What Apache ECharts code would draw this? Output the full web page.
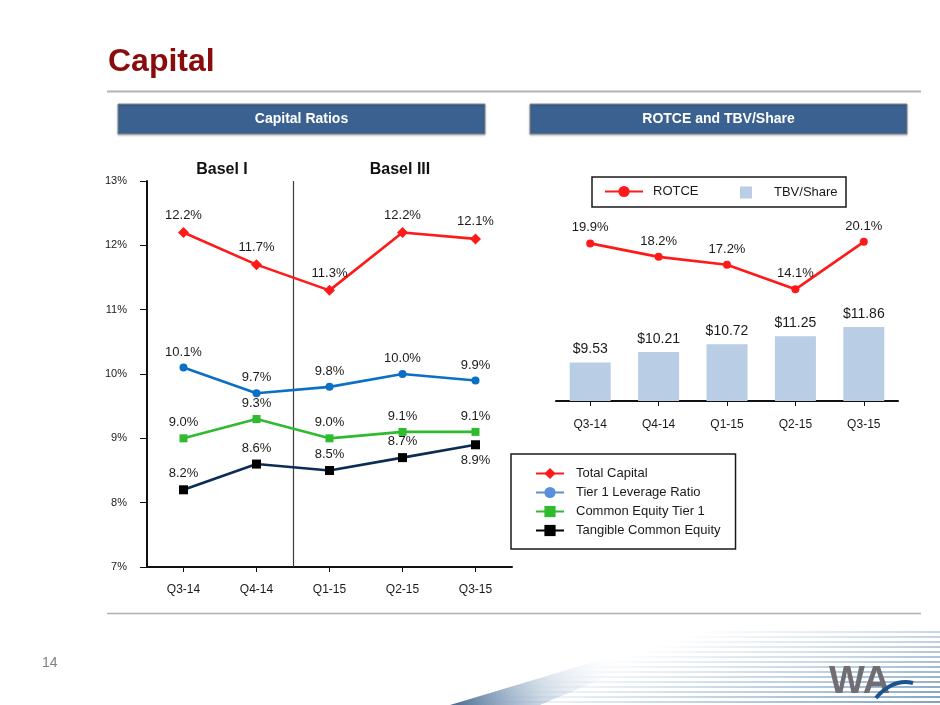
<!DOCTYPE html>
<html><head><meta charset="utf-8">
<script src="https://cdn.jsdelivr.net/npm/echarts@6/dist/echarts.min.js"></script>
<style>html,body{margin:0;padding:0;background:#fff}#c{width:940px;height:705px}</style>
</head><body><div id="c"></div>
<script>
// ---- data ----
const quarters = ['Q3-14', 'Q4-14', 'Q1-15', 'Q2-15', 'Q3-15'];
const totalCapital = [12.2, 11.7, 11.3, 12.2, 12.1];
const tier1Leverage = [10.1, 9.7, 9.8, 10.0, 9.9];
const commonEquityTier1 = [9.0, 9.3, 9.0, 9.1, 9.1];
const tangibleCommonEquity = [8.2, 8.6, 8.5, 8.7, 8.9];
const rotce = [19.9, 18.2, 17.2, 14.1, 20.1];
const tbvShare = [9.53, 10.21, 10.72, 11.25, 11.86];
const ratioAxis = { min: 7, max: 13, step: 1 };
const baselIQuarters = ['Q3-14', 'Q4-14'];
const leftSeriesNames = ['Total Capital', 'Tier 1 Leverage Ratio', 'Common Equity Tier 1', 'Tangible Common Equity'];

const F = "'Liberation Sans', Arial, Helvetica, sans-serif";
const pct = p => Number(p.value).toFixed(1) + '%';
const usd = p => '$' + Number(p.value).toFixed(2);
const labelTop = { show: true, position: 'top', distance: 5, fontFamily: F, fontSize: 13, color: '#1a1a1a', formatter: pct };

// stripes decoration bottom-right
const stripes = [];
for (let y = 632; y <= 704; y += 5) {
  const t = (y - 632) / 72;
  stripes.push({
    type: 'line',
    shape: { x1: 700 - t * 220, y1: y, x2: 940, y2: y },
    style: {
      lineWidth: 2.2,
      stroke: new echarts.graphic.LinearGradient(0, 0, 1, 0, [
        { offset: 0, color: 'rgba(120,160,195,0)' },
        { offset: 0.5, color: 'rgba(120,160,195,' + (0.2 + 0.3 * t) + ')' },
        { offset: 1, color: 'rgba(90,135,180,' + (0.35 + 0.45 * t) + ')' }
      ])
    },
    silent: true
  });
}

const chart = echarts.init(document.getElementById('c'), null, { renderer: 'canvas' });
chart.setOption({
  animation: false,
  backgroundColor: '#ffffff',
  textStyle: { fontFamily: F },
  graphic: [
    ...stripes,
    { type: 'polygon', silent: true,
      shape: { points: [[450, 705], [540, 705], [720, 630], [700, 630]] },
      style: { fill: new echarts.graphic.LinearGradient(0, 1, 0.6, 0, [
        { offset: 0, color: 'rgba(25,65,115,0.8)' },
        { offset: 0.5, color: 'rgba(70,115,160,0.25)' },
        { offset: 1, color: 'rgba(255,255,255,0)' }]) } },
    { type: 'text', left: 829, top: 664, silent: true,
      style: { text: 'WA', fontFamily: F, fontWeight: 'bold', fontSize: 38, fill: '#6f6f73' } },
    { type: 'bezierCurve', silent: true,
      shape: { x1: 876, y1: 698, x2: 913, y2: 683, cpx1: 888, cpy1: 684, cpx2: 900, cpy2: 680 },
      style: { stroke: '#1b5591', lineWidth: 4, fill: null } },

    { type: 'text', x: 108, y: 62, silent: true,
      style: { text: 'Capital', fontFamily: F, fontWeight: 'bold', fontSize: 32, fill: '#8a0b0b', textVerticalAlign: 'middle' } },
    { type: 'line', silent: true, shape: { x1: 107, y1: 91.5, x2: 921, y2: 91.5 }, style: { stroke: '#b4b4b4', lineWidth: 2 } },
    { type: 'line', silent: true, shape: { x1: 107, y1: 613.5, x2: 921, y2: 613.5 }, style: { stroke: '#b0b0b0', lineWidth: 1.5 } },
    { type: 'text', x: 42, y: 663, silent: true,
      style: { text: '14', fontFamily: F, fontSize: 14, fill: '#7f7f7f', textVerticalAlign: 'middle' } },

    { type: 'rect', silent: true, shape: { x: 118, y: 104, width: 367, height: 30 },
      style: { fill: '#3a6190', stroke: '#8a8a8a', lineWidth: 1, shadowBlur: 2, shadowColor: 'rgba(0,0,0,0.25)', shadowOffsetY: 1 } },
    { type: 'text', x: 301.5, y: 119, silent: true,
      style: { text: 'Capital Ratios', fontFamily: F, fontWeight: 'bold', fontSize: 14, fill: '#ffffff', textAlign: 'center', textVerticalAlign: 'middle' } },
    { type: 'rect', silent: true, shape: { x: 530, y: 104, width: 377, height: 30 },
      style: { fill: '#3a6190', stroke: '#8a8a8a', lineWidth: 1, shadowBlur: 2, shadowColor: 'rgba(0,0,0,0.25)', shadowOffsetY: 1 } },
    { type: 'text', x: 718.5, y: 119, silent: true,
      style: { text: 'ROTCE and TBV/Share', fontFamily: F, fontWeight: 'bold', fontSize: 14, fill: '#ffffff', textAlign: 'center', textVerticalAlign: 'middle' } },

    { type: 'text', x: 222, y: 170, silent: true,
      style: { text: 'Basel I', fontFamily: F, fontWeight: 'bold', fontSize: 16, fill: '#111', textAlign: 'center', textVerticalAlign: 'middle' } },
    { type: 'text', x: 400, y: 170, silent: true,
      style: { text: 'Basel III', fontFamily: F, fontWeight: 'bold', fontSize: 16, fill: '#111', textAlign: 'center', textVerticalAlign: 'middle' } },

    { type: 'rect', silent: true, shape: { x: 592, y: 177, width: 254, height: 30 },
      style: { fill: null, stroke: '#1a1a1a', lineWidth: 1.5 } }
  ],
  legend: [
    {
      orient: 'vertical', left: 511, top: 454,
      padding: [13, 15, 12, 24], itemWidth: 28, itemHeight: 14, itemGap: 6,
      borderColor: '#1a1a1a', borderWidth: 1.5,
      textStyle: { fontFamily: F, fontSize: 13, color: '#1a1a1a', padding: [0, 0, 0, 7] },
      data: [
        { name: leftSeriesNames[0] },
        { name: leftSeriesNames[1], itemStyle: { color: '#5b8fd9' }, lineStyle: { color: '#5b8fd9' } },
        { name: leftSeriesNames[2] },
        { name: leftSeriesNames[3], lineStyle: { color: '#000' } }
      ]
    },
    {
      left: 604, top: 185, padding: 0, itemWidth: 38, itemHeight: 14,
      textStyle: { fontFamily: F, fontSize: 13, color: '#1a1a1a', padding: [0, 0, 0, 5] },
      data: ['ROTCE']
    },
    {
      left: 740, top: 186, padding: 0, itemWidth: 12, itemHeight: 12,
      textStyle: { fontFamily: F, fontSize: 13, color: '#1a1a1a', padding: [0, 0, 0, 17] },
      data: [{ name: 'TBV/Share', icon: 'rect' }]
    }
  ],
  grid: [
    { left: 147, top: 181, width: 365, height: 386, containLabel: false },
    { left: 556, top: 203, width: 342, height: 198, containLabel: false }
  ],
  xAxis: [
    {
      gridIndex: 0, type: 'category', data: quarters, boundaryGap: true,
      axisLine: { show: true, lineStyle: { color: '#111', width: 2 } },
      axisTick: { show: true, alignWithLabel: true, length: 5, lineStyle: { color: '#111' } },
      axisLabel: { fontFamily: F, fontSize: 12, color: '#1a1a1a', margin: 17 },
      splitLine: { show: false }
    },
    {
      gridIndex: 1, type: 'category', data: quarters, boundaryGap: true,
      axisLine: { show: true, lineStyle: { color: '#111', width: 2 } },
      axisTick: { show: true, alignWithLabel: true, length: 5, lineStyle: { color: '#111' } },
      axisLabel: { fontFamily: F, fontSize: 12, color: '#1a1a1a', margin: 18 },
      splitLine: { show: false }
    },
    // hidden band-unit axis over the left grid, used to place the Basel I / Basel III divider
    { gridIndex: 0, type: 'value', min: 0, max: quarters.length, show: false, splitLine: { show: false } }
  ],
  yAxis: [
    {
      gridIndex: 0, type: 'value', min: ratioAxis.min, max: ratioAxis.max, interval: ratioAxis.step,
      axisLine: { show: true, lineStyle: { color: '#111', width: 2 } },
      axisTick: { show: true, length: 7, lineStyle: { color: '#111' } },
      axisLabel: { fontFamily: F, fontSize: 11, color: '#1a1a1a', margin: 20, formatter: '{value}%' },
      splitLine: { show: false }
    },
    { gridIndex: 1, type: 'value', min: 0, max: 25, show: false, splitLine: { show: false } },
    { gridIndex: 1, type: 'value', min: 7, max: 20, show: false, splitLine: { show: false } }
  ],
  series: [
    {
      name: 'divider', type: 'line', xAxisIndex: 2, yAxisIndex: 0,
      data: [[baselIQuarters.length, ratioAxis.min]], symbol: 'none', showSymbol: false,
      lineStyle: { width: 0 }, silent: true, z: 1,
      markLine: {
        silent: true, symbol: 'none', label: { show: false },
        lineStyle: { type: 'solid', color: '#3c3c3c', width: 1.2 },
        emphasis: { disabled: true },
        data: [{ xAxis: baselIQuarters.length }]
      }
    },
    {
      name: leftSeriesNames[0], type: 'line', xAxisIndex: 0, yAxisIndex: 0, data: totalCapital,
      symbol: 'diamond', symbolSize: 11, color: '#ff1a1a',
      lineStyle: { width: 2.6, color: '#ff1a1a' }, label: labelTop, z: 5
    },
    {
      name: leftSeriesNames[1], type: 'line', xAxisIndex: 0, yAxisIndex: 0, data: tier1Leverage,
      symbol: 'circle', symbolSize: 8, color: '#0b6fc4',
      lineStyle: { width: 2.6, color: '#0b6fc4' }, label: labelTop, z: 5
    },
    {
      name: leftSeriesNames[2], type: 'line', xAxisIndex: 0, yAxisIndex: 0, data: commonEquityTier1,
      symbol: 'rect', symbolSize: 8, color: '#2fba2f',
      lineStyle: { width: 2.6, color: '#2fba2f' }, label: labelTop, z: 5
    },
    {
      name: leftSeriesNames[3], type: 'line', xAxisIndex: 0, yAxisIndex: 0,
      data: tangibleCommonEquity.map((v, i) => i === tangibleCommonEquity.length - 1 ? { value: v, label: { position: 'bottom' } } : v),
      symbol: 'rect', symbolSize: 9, color: '#000000',
      lineStyle: { width: 2.6, color: '#0c2c55' }, label: labelTop, z: 5
    },
    {
      name: 'TBV/Share', type: 'bar', xAxisIndex: 1, yAxisIndex: 2, data: tbvShare,
      barWidth: 41, color: '#b9cde5',
      label: { show: true, position: 'top', distance: 6, fontFamily: F, fontSize: 14, color: '#1a1a1a', formatter: usd },
      z: 2
    },
    {
      name: 'ROTCE', type: 'line', xAxisIndex: 1, yAxisIndex: 1, data: rotce,
      symbol: 'circle', symbolSize: 8, color: '#ff1a1a',
      lineStyle: { width: 2.6, color: '#ff1a1a' }, label: labelTop, z: 5
    }
  ]
});
</script>
</body></html>
